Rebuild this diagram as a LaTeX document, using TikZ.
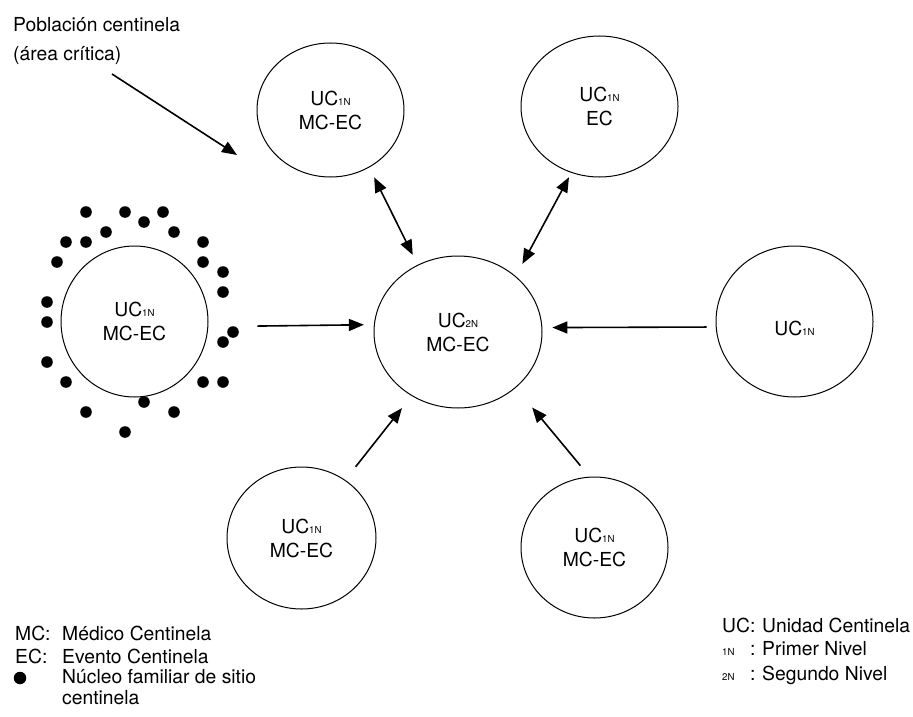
\documentclass[tikz,border=0pt]{standalone}
\usepackage{fontspec}
\setmainfont{TeX Gyre Heros}
\usetikzlibrary{shapes.geometric,arrows.meta}
\newcommand\subn[1]{{\fontsize{9.7}{10}\selectfont #1}}
\begin{document}
\begin{tikzpicture}[x=1pt,y=-1pt,
  unit/.style={draw,ellipse,line width=1pt,inner sep=0pt,align=center,font=\fontsize{19.3}{24}\selectfont},
  arr/.style={line width=1.6pt,-{Triangle[length=15pt,width=12pt]}},
  dbl/.style={line width=1.6pt,{Triangle[length=15pt,width=12pt]}-{Triangle[length=15pt,width=12pt]}},
  dot/.style={circle,fill,inner sep=0pt,minimum size=11.6pt},
  txt/.style={inner sep=0pt,font=\fontsize{19.3}{24}\selectfont}]
\useasboundingbox (0,0) rectangle (913,717);

% circles
\node[unit,minimum width=147pt,minimum height=134pt] (A) at (330.5,110) {UC\subn{1N}\\MC-EC};
\node[unit,minimum width=157pt,minimum height=141pt] (B) at (599.5,106.5) {UC\subn{1N}\\EC};
\node[unit,minimum width=147pt,minimum height=151pt] (L) at (134.5,321.5) {UC\subn{1N}\\MC-EC};
\node[unit,minimum width=168pt,minimum height=152pt] (C) at (458,332) {UC\subn{2N}\\MC-EC};
\node[unit,minimum width=157pt,minimum height=151pt] (R) at (794.5,321.5) {};
\node[txt] (Rl) at ([yshift=-7pt]R.center) {UC\subn{1N}};
\node[unit,minimum width=149pt,minimum height=142pt] (BL) at (301.5,538) {UC\subn{1N}\\MC-EC};
\node[unit,minimum width=147pt,minimum height=141pt] (BR) at (594.5,547.5) {UC\subn{1N}\\MC-EC};

% connectors
\draw[dbl,shorten <=11pt,shorten >=11pt] (A.304) -- (C.121.8);
\draw[dbl,shorten <=5pt,shorten >=14pt] (B.247) -- (C.44.3);
\draw[arr,shorten <=49pt,shorten >=10pt] (L.356.5) -- (C.175.9);
\draw[arr,shorten <=9pt,shorten >=10pt] (R.184) -- (C.3.4);
\draw[arr,shorten <=16.7pt,shorten >=15.5pt] (BL.53.4) -- (C.234.8);
\draw[arr,shorten <=14.3pt,shorten >=25.6pt] (BR.94.5) -- (C.316.4);

% population label and pointer
\node[txt,anchor=base west] (pob1) at (13,31.7) {Población centinela};
\node[txt,anchor=base west] (pob2) at (13,60) {(área crítica)};
\coordinate (p1) at (112,74);
\coordinate (p2) at (237,155);
\draw[arr] (p1) -- (p2);

% dots
\foreach \x/\y [count=\i] in {86/212,125/212,163/212,144/222,106/232,174/232,66/242,86/242,203/242,57/262,203/262,223/272,223/292,47/302,47/322,233/332,223/342,47/362,66/382,203/382,223/382,144/402,86/412,174/412,125/432}
  \node[dot] (d\i) at (\x,\y) {};

% legend left
\node[txt,anchor=base west] (mc) at (15,640) {MC:};
\node[txt,anchor=base west] (mct) at (62,640) {Médico Centinela};
\node[txt,anchor=base west] (ec) at (15,663) {EC:};
\node[txt,anchor=base west] (ect) at (62,663) {Evento Centinela};
\node[dot,minimum size=12.5pt] (bul) at (20,678) {};
\node[txt,anchor=base west] (nf1) at (62,683) {Núcleo familiar de sitio};
\node[txt,anchor=base west] (nf2) at (62,704) {centinela};

% legend right
\node[txt,anchor=base west] (uc) at (722,632) {UC:};
\node[txt,anchor=base west] (uct) at (762,632) {Unidad Centinela};
\node[txt,anchor=base west] (n1) at (722,655) {\subn{1N}};
\node[txt,anchor=base west] (c1) at (750,655) {:};
\node[txt,anchor=base west] (n1t) at (762,655) {Primer Nivel};
\node[txt,anchor=base west] (n2) at (722,680) {\subn{2N}};
\node[txt,anchor=base west] (c2) at (750,680) {:};
\node[txt,anchor=base west] (n2t) at (762,680) {Segundo Nivel};
\end{tikzpicture}
\end{document}
